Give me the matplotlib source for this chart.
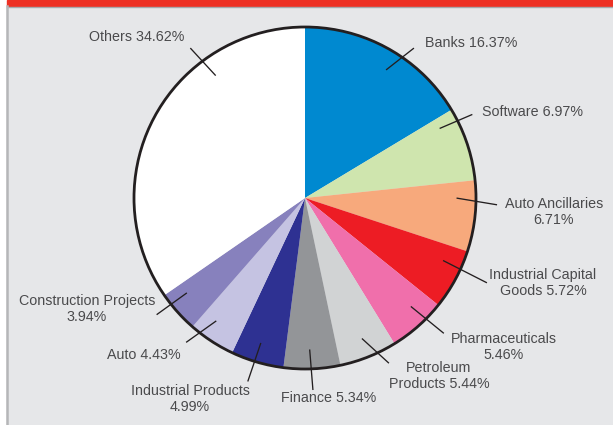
import numpy as np
import matplotlib.pyplot as plt
from matplotlib.patches import Rectangle, Circle

# sector allocation, clockwise from 12 o'clock
sectors = ["Banks", "Software", "Auto Ancillaries", "Industrial Capital Goods",
           "Pharmaceuticals", "Petroleum Products", "Finance",
           "Industrial Products", "Auto", "Construction Projects", "Others"]
shares = [16.37, 6.97, 6.71, 5.72, 5.46, 5.44, 5.34, 4.99, 4.43, 3.94, 34.62]
label_text = ["Banks 16.37%", "Software 6.97%", "Auto Ancillaries\n6.71%",
              "Industrial Capital\nGoods 5.72%", "Pharmaceuticals\n5.46%",
              "Petroleum\nProducts 5.44%", "Finance 5.34%",
              "Industrial Products\n4.99%", "Auto 4.43%",
              "Construction Projects\n3.94%", "Others 34.62%"]
colors = ["#0089d0", "#cfe5ae", "#f7a97c", "#ed1c24", "#f06fab", "#d1d3d4",
          "#939598", "#2e3192", "#c5c3e2", "#8781bd", "#ffffff"]

# layout (pixels, y measured from the top)
W, H = 613, 425
CX, CY, R = 305, 198, 171
text_xy = [(471, 43), (533, 112), (554, 212), (543, 283), (504, 347),
           (439, 376), (329, 398), (190, 399), (144, 355), (87, 309),
           (137, 37)]
# leader: fraction along wedge (inner end), fraction (outer end), outer radius
leaders = [(0.55, 0.61, 1.08), (0.15, 0.18, 1.09), (0.25, 0.33, 1.12),
           (0.30, 0.33, 1.17), (0.35, 0.28, 1.13), (0.48, 0.24, 1.08),
           (0.53, 0.50, 1.12), (0.54, 0.56, 1.12), (0.67, 0.89, 1.09),
           (0.71, 0.75, 1.10), (0.71, 0.70, 1.10)]
R_IN = 0.89

plt.rcParams['font.family'] = ['Liberation Sans', 'DejaVu Sans']

fig = plt.figure(figsize=(W / 100, H / 100), dpi=100, facecolor="white")
ax = fig.add_axes([0, 0, 1, 1])

wedges, _ = ax.pie(shares, colors=colors, startangle=90, counterclock=False,
                   radius=R, center=(CX, H - CY),
                   wedgeprops=dict(linewidth=0))
ax.add_patch(Circle((CX, H - CY), R, fill=False, lw=2.0,
                    ec="#231f20", zorder=5))

# page frame: grey panel, red header band, left rule
ax.add_patch(Rectangle((7, 0), W - 7, H - 7, color="#e6e7e9", zorder=0))
ax.add_patch(Rectangle((7, H - 6), W - 7, 6, color="#ee3124", zorder=1))
ax.plot([7, W], [H - 6.5, H - 6.5], color="#a7a9ac", lw=1, zorder=1)
ax.plot([6.5, 6.5], [0, H - 6], color="#b5b6b8", lw=1.8, zorder=1)

for w, txt, (tx, ty), (f_in, f_out, r_out) in zip(wedges, label_text,
                                                  text_xy, leaders):
    span = w.theta2 - w.theta1
    a_in = np.radians(w.theta2 - f_in * span)
    a_out = np.radians(w.theta2 - f_out * span)
    x0 = CX + R * R_IN * np.cos(a_in)
    y0 = H - CY + R * R_IN * np.sin(a_in)
    x1 = CX + R * r_out * np.cos(a_out)
    y1 = H - CY + R * r_out * np.sin(a_out)
    ax.plot([x0, x1], [y0, y1], color="#231f20", lw=0.95, zorder=6)
    ax.text(tx, H - ty, txt, ha="center", va="center", fontsize=10.3,
            color="#4a4a4c", linespacing=1.25, zorder=6)

ax.set_xlim(0, W)
ax.set_ylim(0, H)
ax.axis("off")

fig.savefig("out.png", dpi=100, facecolor=fig.get_facecolor())
